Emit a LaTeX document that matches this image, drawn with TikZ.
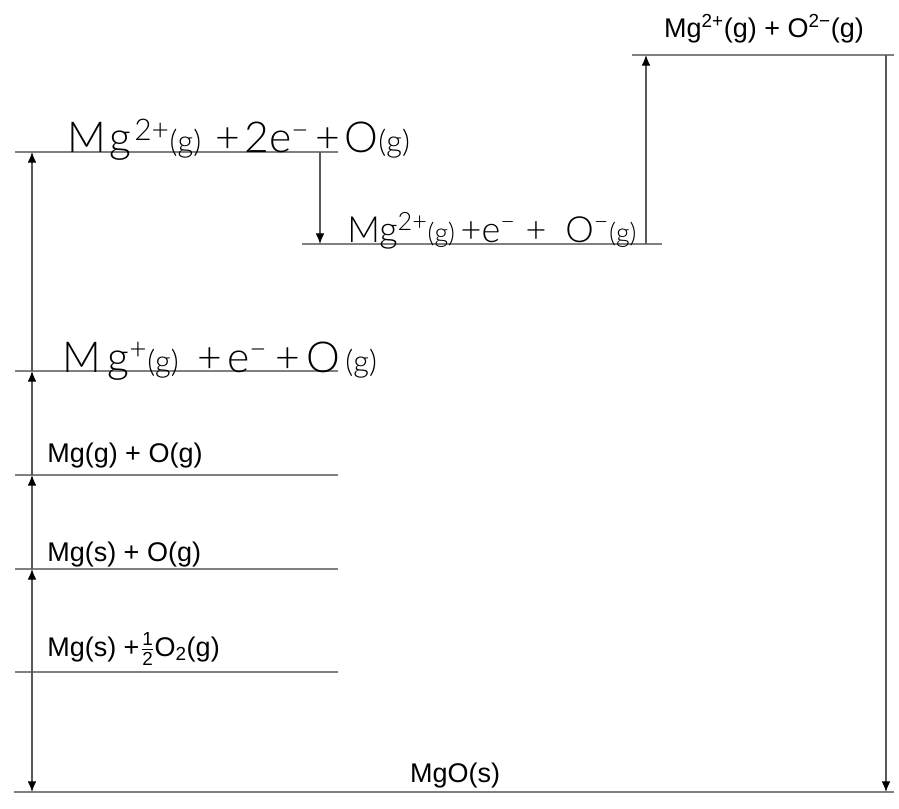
\documentclass[tikz,border=0pt]{standalone}
\usepackage{amsmath}
\usepackage{fontspec}
\setmainfont{Liberation Sans}
\newfontfamily\handfont{Lato}[UprightFont={* Light}]
\usepackage{tikz}
\usetikzlibrary{arrows.meta, calc}
\newcommand{\lblfont}{\fontsize{20.25}{24}\selectfont}
\newcommand{\handsize}{\handfont\fontsize{32}{38}\selectfont}
\newcommand{\hsmall}[1]{{\fontsize{23}{23}\selectfont #1}}
\newcommand{\hgap}[1]{\hspace{1pt plus #1fil}}

\begin{document}
\begin{tikzpicture}[x=0.75pt, y=-0.75pt,
    level/.style={draw=black!50, line width=1.5pt},
    arrow/.style={draw=black!65, line width=0.9pt, -{Latex[length=8pt,width=6.5pt,color=black]}},
    lbl/.style={inner sep=0pt, font=\lblfont},
    hand/.style={inner sep=0pt, anchor=base west, font=\handsize}]
    \useasboundingbox (0,0) rectangle (899,809);
    \coordinate (colA) at (32,0);
    \coordinate (colB) at (320,0);
    \coordinate (colC) at (646,0);
    \coordinate (colD) at (886,0);
    \draw [level] (14,792) coordinate (mgo) -- (894,792);
    \draw [level] (15,672) coordinate (half) -- (338,672);
    \draw [level] (15,569) coordinate (mgsO) -- (338,569);
    \draw [level] (15,475) coordinate (atoms) -- (338,475);
    \draw [level] (15,371) coordinate (ie1) -- (338,371);
    \draw [level] (15,152) coordinate (ie2) -- (338,152);
    \draw [level] (302,244) coordinate (ea1) -- (662,244);
    \draw [level] (632,55) coordinate (ions) -- (894,55);
    \draw [arrow] (colA |- half) -- (colA |- mgo);
    \draw [arrow] (colA |- half) -- (colA |- mgsO);
    \draw [arrow] (colA |- mgsO) -- (colA |- atoms);
    \draw [arrow] (colA |- atoms) -- (colA |- ie1);
    \draw [arrow] (colA |- ie1) -- (colA |- ie2);
    \draw [arrow] (colB |- ie2) -- (colB |- ea1);
    \draw [arrow] (colC |- ea1) -- (colC |- ions);
    \draw [arrow] (colD |- ions) -- (colD |- mgo);
    \node [lbl, anchor=base] (ionsTxt) at (764,38) {Mg\textsuperscript{2+}(g) + O\textsuperscript{2−}(g)};
    \node [hand] (ie2Txt) at (67,153) {\makebox[257pt][s]{M\hgap{2}g\hgap{1}\textsuperscript{2+}\hsmall{(g)}\hgap{10}+\hgap{2}2e\textsuperscript{−}\hgap{4}+\hgap{2}O\hsmall{(g)}}};
    \node [hand, font=\handfont\fontsize{27}{32}\selectfont] (ea1Txt) at (347,243) {\makebox[217pt][s]{Mg\textsuperscript{2+}{\fontsize{20}{20}\selectfont(g)}\hgap{1}+e\textsuperscript{−}\hgap{2}+\hgap{4}O\textsuperscript{−}{\fontsize{20}{20}\selectfont(g)}}};
    \node [hand] (ie1Txt) at (62,372) {\makebox[236pt][s]{M\hgap{3}g\textsuperscript{+}\hsmall{(g)}\hgap{10}+\hgap{2}e\textsuperscript{−}\hgap{4}+\hgap{3}O\hgap{2}\hsmall{(g)}}};
    \node [lbl, anchor=base west] (atomsTxt) at (47,462) {Mg(g) + O(g)};
    \node [lbl, anchor=base west] (mgsOTxt) at (47,561) {Mg(s) + O(g)};
    \node [lbl, anchor=base west] (halfTxt) at (47,656) {Mg(s) +\kern1pt$\tfrac{\text{1}}{\text{2}}$O$_{\text{2}}$(g)};
    \node [lbl, anchor=base] (mgoTxt) at (455,782) {MgO(s)};
\end{tikzpicture}
\end{document}
